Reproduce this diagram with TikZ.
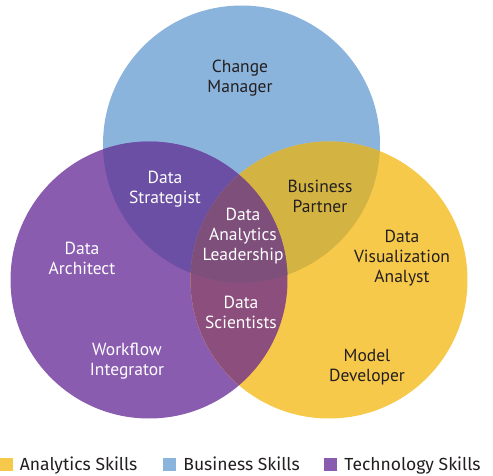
\documentclass[tikz,border=0pt]{standalone}
\usepackage{fontspec}
\setsansfont{PT Sans}
\newfontfamily\legendfont{Fira Sans}
\usetikzlibrary{positioning}
\definecolor{bizblue}{HTML}{8BB4DC}
\definecolor{anayellow}{HTML}{F7C94B}
\definecolor{techpurple}{HTML}{8A5CB0}
\definecolor{bizpurple}{HTML}{6A4FA5}
\definecolor{bizyellow}{HTML}{D3B342}
\definecolor{anapurple}{HTML}{8C4F7D}
\definecolor{allthree}{HTML}{7E4F7B}
\definecolor{labeldark}{HTML}{231F20}
\newcommand{\circrad}{138.5}
\begin{document}
\begin{tikzpicture}[x=1pt,y=1pt,
lab/.style={font=\sffamily\fontsize{17.5}{20}\selectfont,align=center,text=labeldark,inner sep=0pt},
labw/.style={lab,text=white},
key/.style={font=\legendfont\fontsize{17.5}{20}\selectfont,text=labeldark,inner sep=0pt,text height=12.5pt,text depth=0pt},
swatch/.style={minimum size=13pt,inner sep=0pt}]
\useasboundingbox (0,0) rectangle (493,475);
\coordinate (B) at (241.5,331);
\coordinate (P) at (149,195);
\coordinate (Y) at (329,195);
% the three sets
\fill[bizblue] (B) circle (\circrad);
\fill[techpurple] (P) circle (\circrad);
\fill[anayellow] (Y) circle (\circrad);
% overlaps
\begin{scope}
\clip (B) circle (\circrad);
\fill[bizpurple] (P) circle (\circrad);
\fill[bizyellow] (Y) circle (\circrad);
\end{scope}
\begin{scope}
\clip (P) circle (\circrad);
\fill[anapurple] (Y) circle (\circrad);
\clip (Y) circle (\circrad);
\fill[allthree] (B) circle (\circrad);
\end{scope}
% roles
\node[lab] (CM) at (240,397) {Change\\Manager};
\node[labw] (DS) at (165,286) {Data\\Strategist};
\node[lab] (BP) at (320,279) {Business\\Partner};
\node[labw] (DAL) at (243,239) {Data\\Analytics\\Leadership};
\node[lab] (DVA) at (402,217) {Data\\Visualization\\Analyst};
\node[labw] (DA) at (82,217) {Data\\Architect};
\node[labw] (DSc) at (241,163) {Data\\Scientists};
\node[labw] (WI) at (127,114) {Workflow\\Integrator};
\node[lab] (MD) at (367,108) {Model\\Developer};
% legend
\node[swatch,fill=anayellow] (K1) at (6,10.5) {};
\node[key,right=7pt of K1] {Analytics Skills};
\node[swatch,fill=bizblue] (K2) at (169.5,10.5) {};
\node[key,right=7pt of K2] {Business Skills};
\node[swatch,fill=techpurple] (K3) at (330.5,10.5) {};
\node[key,right=7pt of K3] {Technology Skills};
\end{tikzpicture}
\end{document}
